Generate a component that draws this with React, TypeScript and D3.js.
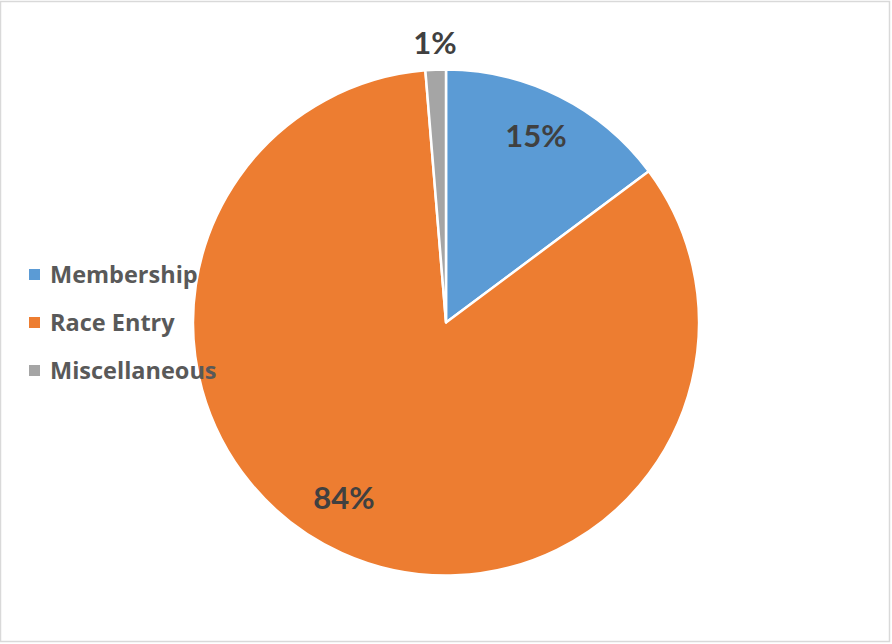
import React from "react";
import * as d3 from "d3";

const categories = ["Membership", "Race Entry", "Miscellaneous"];
const values = [14.8, 83.9, 1.3];
const labels = ["15%", "84%", "1%"];
const colors = ["#5B9BD5", "#ED7D31", "#A5A5A5"];

const W = 892;
const H = 644;
const cx = 446;
const cy = 322.5;
const R = 253;

export default function App() {
  const pie = d3.pie<number>().sort(null).value((d) => d);
  const arcs = pie(values);
  const arcGen = d3.arc<d3.PieArcDatum<number>>().innerRadius(0).outerRadius(R);
  const labelPos: [number, number][] = [
    [536, 135],
    [344, 497],
    [435, 42],
  ];
  const legendY = d3.scalePoint<string>().domain(categories).range([283, 379]);
  return (
    <div style={{ position: "absolute", left: 0, top: 0 }}>
      <svg width={W} height={H} style={{ display: "block", fontFamily: "Lato, 'Open Sans', sans-serif" }}>
        <rect x={0.5} y={1.5} width={889} height={640} fill="#fff" stroke="#d9d9d9" strokeWidth={1.5} />
        <g transform={`translate(${cx},${cy})`}>
          {arcs.map((a, i) => (
            <path key={i} d={arcGen(a) || ""} fill={colors[i]} stroke="#fff" strokeWidth={2.5} strokeLinejoin="round" />
          ))}
        </g>
        {labels.map((t, i) => (
          <text
            key={t}
            x={labelPos[i][0]}
            y={labelPos[i][1]}
            textAnchor="middle"
            dominantBaseline="central"
            fontSize={31}
            fontWeight="bold"
            fill="#404040"
          >
            {t}
          </text>
        ))}
        {categories.map((c, i) => (
          <g key={c} transform={`translate(0,${legendY(c)})`}>
            <rect x={29} y={-14} width={11} height={11} fill={colors[i]} />
            <text
              x={50}
              y={0}
              fontSize={23.5}
              fontWeight="bold"
              fill="#595959"
              style={{ fontFamily: "'Open Sans', sans-serif" }}
            >
              {c}
            </text>
          </g>
        ))}
      </svg>
    </div>
  );
}
